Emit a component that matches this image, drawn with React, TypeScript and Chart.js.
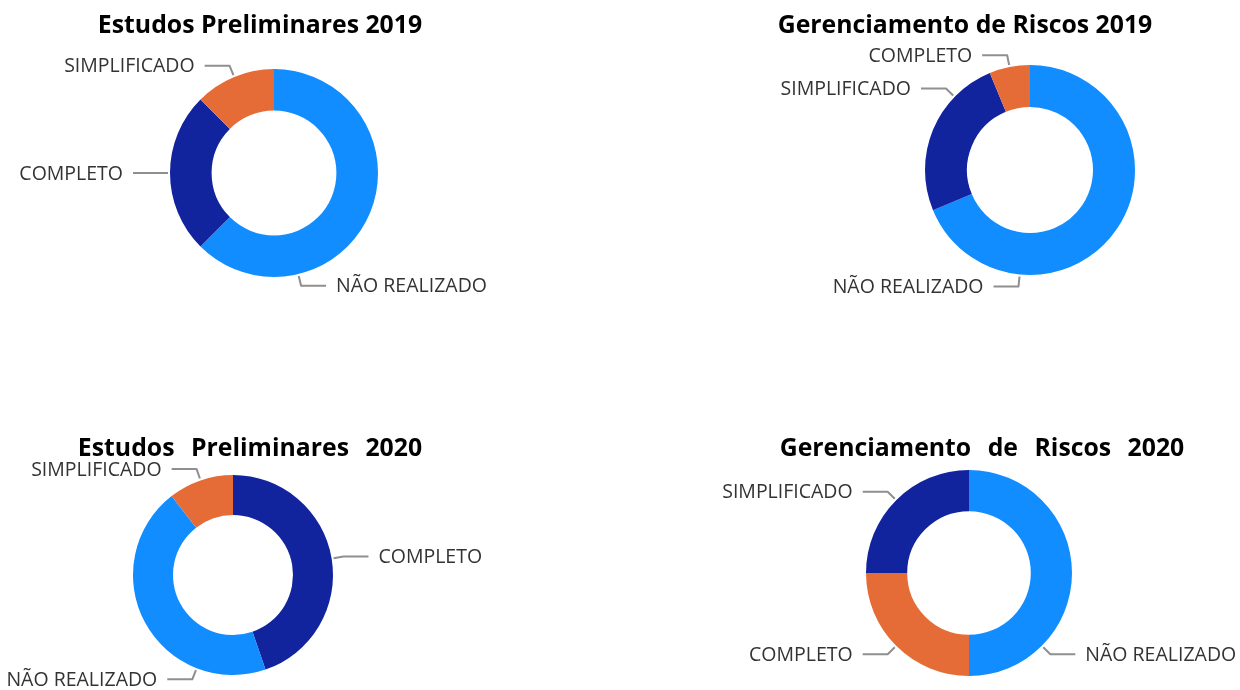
import React, { useEffect, useRef } from 'react';
import { Chart, registerables } from 'chart.js';

Chart.register(...registerables);

// ---------- data ----------
const ep2019Title = 'Estudos Preliminares 2019';
const ep2019Labels = ['NÃO REALIZADO', 'COMPLETO', 'SIMPLIFICADO'];
const ep2019Values = [10, 4, 2];

const gr2019Title = 'Gerenciamento de Riscos 2019';
const gr2019Labels = ['NÃO REALIZADO', 'SIMPLIFICADO', 'COMPLETO'];
const gr2019Values = [11, 4, 1];

const ep2020Title = 'Estudos Preliminares 2020';
const ep2020Labels = ['COMPLETO', 'NÃO REALIZADO', 'SIMPLIFICADO'];
const ep2020Values = [17, 17, 4];

const gr2020Title = 'Gerenciamento de Riscos 2020';
const gr2020Labels = ['NÃO REALIZADO', 'COMPLETO', 'SIMPLIFICADO'];
const gr2020Values = [2, 1, 1];

// ---------- styles ----------
const BLUE = '#118DFF';
const NAVY = '#12239E';
const ORANGE = '#E66C37';

type Layout = {
  left: number; top: number; w: number; h: number;
  cx: number; cy: number; r: number;
  titleX: number; titleY: number; wordGap: number;
  colors: string[]; anchors: number[];
};

const layouts: Layout[] = [
  { left: 0, top: 0, w: 620, h: 345, cx: 274, cy: 173, r: 104, titleX: 260, titleY: 33, wordGap: 0,
    colors: [BLUE, NAVY, ORANGE], anchors: [0.74, 0.5, 0.5] },
  { left: 620, top: 0, w: 620, h: 345, cx: 410, cy: 170, r: 105, titleX: 345, titleY: 33, wordGap: 0,
    colors: [BLUE, NAVY, ORANGE], anchors: [0.75, 0.74, 0.5] },
  { left: 0, top: 345, w: 620, h: 345, cx: 233, cy: 230, r: 100, titleX: 250, titleY: 111, wordGap: 10,
    colors: [NAVY, BLUE, ORANGE], anchors: [0.5, 0.25, 0.5] },
  { left: 620, top: 345, w: 620, h: 345, cx: 349, cy: 228, r: 103, titleX: 362, titleY: 111, wordGap: 10,
    colors: [BLUE, ORANGE, NAVY], anchors: [0.75, 0.5, 0.5] },
];

const LABEL_FONT = '19.5px "Open Sans"';
const TITLE_FONT = 'bold 24.8px "Open Sans"';

const leaderPlugin = {
  id: 'leaderLabels',
  afterDatasetsDraw(chart: any, _args: any, opts: any) {
    const ctx = chart.ctx as CanvasRenderingContext2D;
    const meta = chart.getDatasetMeta(0);
    const labels: string[] = chart.data.labels;
    ctx.save();
    meta.data.forEach((arc: any, i: number) => {
      const p = arc.getProps(['x', 'y', 'startAngle', 'endAngle', 'outerRadius'], true);
      const a = p.startAngle + (p.endAngle - p.startAngle) * opts.anchors[i];
      const c = Math.cos(a);
      const s = Math.sin(a);
      const x0 = p.x + (p.outerRadius + 2) * c;
      const y0 = p.y + (p.outerRadius + 2) * s;
      const x1 = p.x + (p.outerRadius + 12) * c;
      const y1 = p.y + (p.outerRadius + 12) * s;
      const dir = c >= 0 ? 1 : -1;
      const x2 = x1 + dir * 25;
      ctx.strokeStyle = '#8f8f8f';
      ctx.lineWidth = 2;
      ctx.lineJoin = 'round';
      ctx.beginPath();
      ctx.moveTo(x0, y0);
      ctx.lineTo(x1, y1);
      ctx.lineTo(x2, y1);
      ctx.stroke();
      ctx.font = LABEL_FONT;
      ctx.fillStyle = '#333333';
      ctx.textAlign = dir > 0 ? 'left' : 'right';
      ctx.textBaseline = 'middle';
      ctx.fillText(labels[i], x2 + dir * 10, y1 + 1);
    });
    ctx.restore();
  },
};

const titlePlugin = {
  id: 'wordTitle',
  afterDraw(chart: any, _args: any, opts: any) {
    const ctx = chart.ctx as CanvasRenderingContext2D;
    ctx.save();
    ctx.font = TITLE_FONT;
    ctx.fillStyle = '#000000';
    ctx.textBaseline = 'alphabetic';
    ctx.textAlign = 'left';
    const words: string[] = String(opts.text).split(' ');
    const space = ctx.measureText(' ').width + opts.wordGap;
    const widths = words.map((w) => ctx.measureText(w).width);
    const total = widths.reduce((s, v) => s + v, 0) + space * (words.length - 1);
    let x = opts.x - total / 2;
    words.forEach((w, i) => {
      ctx.fillText(w, x, opts.y);
      x += widths[i] + space;
    });
    ctx.restore();
  },
};

function Donut({ title, labels, values, layout }: { title: string; labels: string[]; values: number[]; layout: Layout }) {
  const ref = useRef<HTMLCanvasElement | null>(null);
  useEffect(() => {
    if (!ref.current) return;
    const L = layout;
    const chart = new Chart(ref.current, {
      type: 'doughnut',
      data: {
        labels,
        datasets: [{ data: values, backgroundColor: L.colors, borderWidth: 0, hoverOffset: 0 }],
      },
      options: {
        responsive: false,
        animation: false,
        devicePixelRatio: 1,
        cutout: '60%',
        layout: {
          padding: { left: L.cx - L.r, right: L.w - (L.cx + L.r), top: L.cy - L.r, bottom: L.h - (L.cy + L.r) },
        },
        plugins: {
          legend: { display: false },
          tooltip: { enabled: false },
          title: { display: false },
          leaderLabels: { anchors: L.anchors },
          wordTitle: { text: title, x: L.titleX, y: L.titleY, wordGap: L.wordGap },
        } as any,
      },
      plugins: [leaderPlugin, titlePlugin],
    });
    return () => chart.destroy();
  }, []);
  return (
    <canvas
      ref={ref}
      width={layout.w}
      height={layout.h}
      style={{ position: 'absolute', left: layout.left, top: layout.top, width: layout.w, height: layout.h }}
    />
  );
}

export default function App() {
  return (
    <div style={{ position: 'absolute', left: 0, top: 0, width: 1240, height: 690, background: '#ffffff', overflow: 'hidden' }}>
      <Donut title={ep2019Title} labels={ep2019Labels} values={ep2019Values} layout={layouts[0]} />
      <Donut title={gr2019Title} labels={gr2019Labels} values={gr2019Values} layout={layouts[1]} />
      <Donut title={ep2020Title} labels={ep2020Labels} values={ep2020Values} layout={layouts[2]} />
      <Donut title={gr2020Title} labels={gr2020Labels} values={gr2020Values} layout={layouts[3]} />
    </div>
  );
}
